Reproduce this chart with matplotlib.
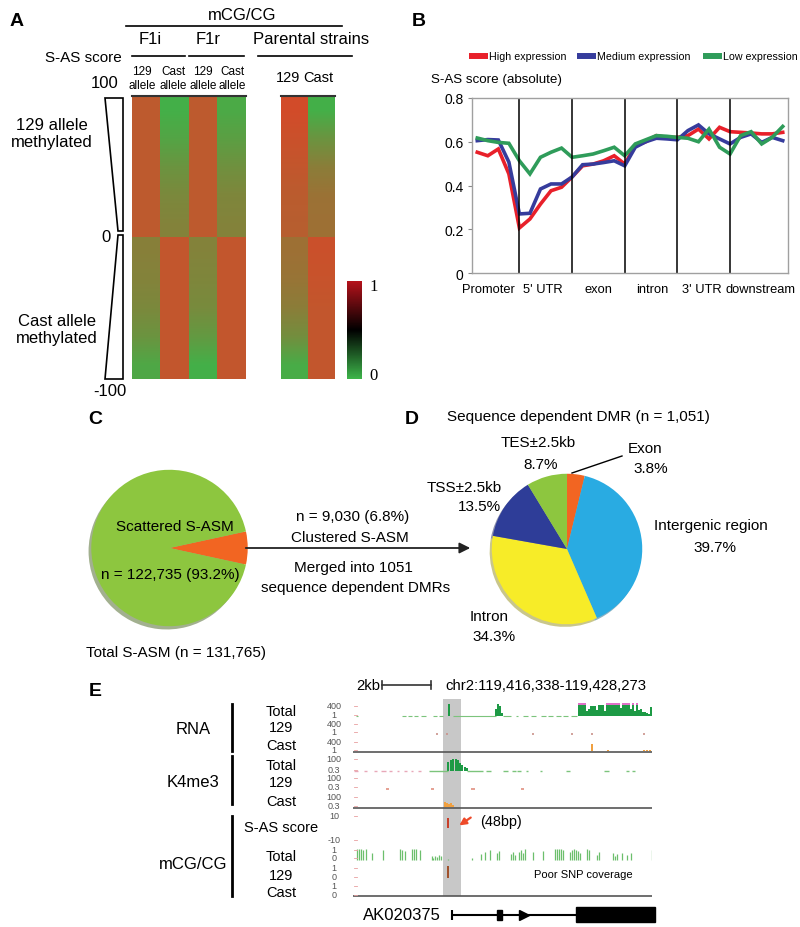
import numpy as np
import matplotlib
matplotlib.use('Agg')
import matplotlib.pyplot as plt
from matplotlib.colors import LinearSegmentedColormap, Normalize
from matplotlib.cm import ScalarMappable
from matplotlib.patches import Polygon, Rectangle

plt.rcParams['font.family'] = ['Liberation Sans', 'DejaVu Sans']

W, H = 800, 928

# ---- A: mCG/CG per column, top half (S-AS 100 -> 0) and bottom half (0 -> -100)
heat_top = {
    'F1i 129':  [0.82, 0.82, 0.82, 0.82, 0.82],
    'F1i Cast': [0.05, 0.15, 0.30, 0.40, 0.45],
    'F1r 129':  [0.82, 0.82, 0.82, 0.82, 0.82],
    'F1r Cast': [0.10, 0.20, 0.33, 0.42, 0.45],
    'Par 129':  [0.95, 0.90, 0.85, 0.80, 0.78],
    'Par Cast': [0.05, 0.30, 0.50, 0.60, 0.62],
}
heat_bot = {
    'F1i 129':  [0.48, 0.45, 0.40, 0.30, 0.12],
    'F1i Cast': [0.85, 0.85, 0.85, 0.85, 0.85],
    'F1r 129':  [0.45, 0.42, 0.38, 0.25, 0.05],
    'F1r Cast': [0.85, 0.85, 0.85, 0.85, 0.85],
    'Par 129':  [0.62, 0.58, 0.50, 0.35, 0.08],
    'Par Cast': [0.90, 0.88, 0.85, 0.85, 0.85],
}

# ---- B: S-AS score (absolute) along gene body
regions = ['Promoter', "5' UTR", 'exon', 'intron', "3' UTR", 'downstream']
series_names = ['High expression', 'Medium expression', 'Low expression']
high = [0.552, 0.536, 0.567, 0.453, 0.206, 0.247, 0.315, 0.376, 0.392, 0.439,
        0.490, 0.498, 0.513, 0.536, 0.498, 0.582, 0.600, 0.628, 0.620, 0.620,
        0.628, 0.658, 0.613, 0.666, 0.646, 0.643, 0.640, 0.636, 0.636, 0.643]
medium = [0.605, 0.610, 0.608, 0.507, 0.270, 0.273, 0.384, 0.407, 0.407, 0.439,
          0.495, 0.498, 0.505, 0.513, 0.490, 0.575, 0.600, 0.616, 0.613, 0.609,
          0.651, 0.677, 0.636, 0.613, 0.590, 0.620, 0.636, 0.597, 0.620, 0.605]
low = [0.617, 0.605, 0.597, 0.593, 0.513, 0.453, 0.529, 0.552, 0.571, 0.529,
       0.536, 0.544, 0.559, 0.575, 0.536, 0.590, 0.609, 0.628, 0.625, 0.620,
       0.616, 0.600, 0.658, 0.575, 0.544, 0.628, 0.646, 0.590, 0.620, 0.670]

# ---- C / D pies
c_vals = [6.8, 93.2]
d_labels = ['Exon', 'Intergenic region', 'Intron', 'TSS±2.5kb', 'TES±2.5kb']
d_vals = [3.8, 39.7, 34.3, 13.5, 8.7]

# ---- E: browser tracks, positions in kb from chr2:119,416,338
region_kb = 11.935
highlight = (3.59, 4.31)
rna_total_pos = [3.83, 5.72, 5.80, 5.88, 5.96]
rna_total_h = [1.0, 0.6, 1.0, 0.85, 0.25]
rna_block_start = 8.98
rna_block_h = [1.0, 1.0, 1.0, 1.0, 0.4, 0.6, 0.85, 0.85, 0.85, 0.5, 0.9, 0.9, 0.9,
               0.4, 1.0, 1.0, 1.0, 1.0, 1.0, 1.0, 1.0, 0.7, 1.0, 1.0, 1.0, 1.0,
               0.55, 1.0, 0.45, 1.0, 0.5, 0.6, 0.3, 0.35, 0.25, 0.2, 0.75]
rna_total_low = [(0.1, 0.2), (1.96, 2.1), (2.2, 2.35), (2.45, 2.6), (2.7, 2.9),
                 (3.2, 3.35), (3.45, 3.6), (4.0, 5.7), (6.0, 6.3), (6.5, 6.6),
                 (6.8, 7.0), (7.1, 7.3), (7.5, 7.7), (7.8, 8.0), (8.1, 8.3),
                 (8.4, 8.6), (8.7, 8.95)]
rna_129_pos = [3.35, 3.75, 7.19, 8.74, 9.54, 11.62]
rna_cast_pos = [9.54, 10.18, 11.62, 11.74, 11.86]
rna_cast_h = [0.75, 0.15, 0.15, 0.12, 0.15]
k4_total_pos = [3.80, 3.90, 4.00, 4.10, 4.18, 4.27, 4.36, 4.46, 4.54]
k4_total_h = [0.68, 0.81, 0.89, 0.95, 0.81, 0.62, 0.49, 0.32, 0.22]
k4_total_low_pink = [(0.05, 0.2), (0.45, 0.55), (0.85, 0.95), (1.1, 1.3), (1.45, 1.55),
                     (1.75, 1.85), (2.05, 2.15), (2.3, 2.4), (2.6, 2.7)]
k4_total_low_green = [(3.05, 3.8), (4.55, 5.2), (5.3, 5.5), (6.0, 6.2), (6.35, 6.5),
                      (6.55, 6.7), (6.9, 7.0), (7.45, 7.55), (8.5, 8.65), (10.0, 10.2),
                      (10.9, 11.0), (11.15, 11.25)]
k4_129_pos = [1.36, 3.19, 4.79, 6.75]
k4_cast_pos = [3.68, 3.76, 3.84, 3.92, 4.00]
k4_cast_h = [0.45, 0.35, 0.25, 0.30, 0.15]
sas_pos = [3.80]
sas_val = [8.0]
mcg_total_pos = [0.17, 0.25, 0.33, 0.41, 0.51, 0.75, 1.21, 1.88, 1.94, 2.09, 2.37, 2.45,
                 2.53, 2.67, 3.14, 3.21, 3.29, 3.37, 3.45, 3.52, 3.80, 4.74, 5.12, 5.28,
                 5.47, 5.74, 5.84, 6.31, 6.38, 6.46, 6.64, 6.71, 6.79, 6.88, 7.20, 7.57,
                 8.06, 8.13, 8.21, 8.29, 8.37, 8.66, 8.74, 8.82, 8.90, 8.98, 9.06, 9.33,
                 9.41, 9.73, 9.81, 10.39, 10.47, 10.55, 10.73, 10.93, 11.09, 11.92]
mcg_total_h = [0.95, 0.9, 0.95, 0.85, 0.9, 0.6, 0.8, 0.9, 0.85, 0.75, 0.95, 0.9,
               0.95, 0.85, 0.3, 0.2, 0.35, 0.25, 0.4, 0.3, 0.1, 0.2, 0.5, 0.65,
               0.8, 0.6, 0.75, 0.5, 0.65, 0.45, 0.7, 0.8, 0.6, 0.9, 0.7, 0.75,
               0.95, 0.9, 0.95, 0.9, 0.85, 0.7, 0.8, 0.9, 0.85, 0.75, 0.6, 0.9,
               0.8, 0.4, 0.7, 0.6, 0.3, 0.5, 0.55, 0.4, 0.6, 0.8]
mcg_129_pos = [3.80]
mcg_129_h = [1.0]
gene_start = 3.95
gene_end = 12.05
exons = [(5.75, 5.95, 5), (8.90, 12.05, 7.5)]
gene_arrow = 6.83

fig = plt.figure(figsize=(8, 9.28), dpi=100)


def add_ax(x0, y0, x1, y1):
    return fig.add_axes([x0 / W, 1 - y1 / H, (x1 - x0) / W, (y1 - y0) / H])


# ================= A =================
heat_cmap = LinearSegmentedColormap.from_list('gr', ['#3cb54a', '#da4628'])
cols = list(heat_top)
ax_f1 = add_ax(132, 97, 245.5, 380)
ax_par = add_ax(281, 97, 335, 380)
for ax, names in [(ax_f1, cols[:4]), (ax_par, cols[4:])]:
    for c, name in enumerate(names):
        ax.imshow(np.array(heat_top[name])[:, None], extent=(c, c + 1, 0, 100),
                  cmap=heat_cmap, vmin=0, vmax=1, interpolation='bilinear', aspect='auto')
        ax.imshow(np.array(heat_bot[name])[:, None], extent=(c, c + 1, -100, 0),
                  cmap=heat_cmap, vmin=0, vmax=1, interpolation='bilinear', aspect='auto')
    ax.set_xlim(0, len(names))
    ax.set_ylim(-100, 100)
    ax.set_xticks([])
    ax.set_yticks([])
    for s in ['left', 'right', 'bottom']:
        ax.spines[s].set_visible(False)
    ax.spines['top'].set_color('#333333')
    ax.spines['top'].set_linewidth(1.5)

cax = add_ax(347, 282, 362, 380)
bar_cmap = LinearSegmentedColormap.from_list('gkr', ['#3db54a', '#000000', '#b5121b'])
cb = fig.colorbar(ScalarMappable(norm=Normalize(0, 1), cmap=bar_cmap), cax=cax)
cb.set_ticks([])
cb.outline.set_visible(False)

# ================= B =================
line_colors = ['#e8202a', '#363c9c', '#2f9c5a']
ax_b = add_ax(472, 99, 788, 274)
x = np.arange(len(high))
for y, col in zip([high, medium, low], line_colors):
    ax_b.plot(x, y, color=col, lw=2.6, solid_joinstyle='miter')
for b in [4, 9, 14, 19, 24]:
    ax_b.axvline(b, color='black', lw=1.1)
ax_b.set_xlim(-0.5, 29.5)
ax_b.set_ylim(0, 0.8)
ax_b.set_yticks([0, 0.2, 0.4, 0.6, 0.8])
ax_b.set_yticklabels(['0', '0.2', '0.4', '0.6', '0.8'])
ax_b.set_xticks([1.04, 6.27, 11.49, 16.6, 21.3, 26.9])
ax_b.set_xticklabels(regions)
ax_b.tick_params(axis='x', length=0, pad=7, labelsize=9.3)
ax_b.tick_params(axis='y', length=3, color='#888888', labelsize=10, pad=3)
for s in ax_b.spines.values():
    s.set_color('#a0a0a0')
    s.set_linewidth(1)

# ================= C =================
ax_c = add_ax(169.5 - 79, 549 - 79, 169.5 + 79, 549 + 79)
ax_c.pie(c_vals, colors=['#f26522', '#8dc63f'], startangle=-c_vals[0] * 1.8, radius=1,
         wedgeprops=dict(linewidth=0),
         shadow={'ox': -0.025, 'oy': -0.03, 'shade': 0.5})
ax_c.set_xlim(-1.01, 1.01)
ax_c.set_ylim(-1.01, 1.01)

# ================= D =================
ax_d = add_ax(567 - 76, 550 - 76, 567 + 76, 550 + 76)
ax_d.pie(d_vals, colors=['#f26522', '#29abe2', '#f7ec28', '#2e3d98', '#8dc63f'],
         startangle=90, counterclock=False, radius=1, wedgeprops=dict(linewidth=0),
         shadow={'ox': -0.02, 'oy': -0.025, 'shade': 0.4})
ax_d.set_xlim(-1.01, 1.01)
ax_d.set_ylim(-1.01, 1.01)

# ================= E =================
ax_e = add_ax(353, 698, 652, 926)
ax_e.set_xlim(0, region_kb)
ax_e.set_ylim(926, 698)
ax_e.axis('off')
trk = {'rna_total': (705, 717), 'rna_129': (724, 735), 'rna_cast': (742, 752),
       'k4_total': (759, 772), 'k4_129': (778, 790), 'k4_cast': (796, 808),
       'mcg_total': (849, 861), 'mcg_129': (867, 879), 'mcg_cast': (886, 897)}
sas_mid, sas_scale = 829, 1.2


def bars(key, pos, frac, width, color, **kw):
    top, base = trk[key]
    ax_e.bar(pos, -np.asarray(frac) * (base - top), bottom=base, width=width,
             color=color, linewidth=0, **kw)


def low_sig(key, segs, color, lw=0.8):
    base = trk[key][1]
    ax_e.hlines([base] * len(segs), [s[0] for s in segs], [s[1] for s in segs],
                color=color, lw=lw)


ax_e.fill_between(list(highlight), 700, 897, color='#c8c8c8', lw=0, zorder=0)
green = '#1d9a45'
bars('rna_total', rna_total_pos, rna_total_h, 0.08, green)
block_pos = rna_block_start + 0.08 * np.arange(len(rna_block_h))
bars('rna_total', block_pos, rna_block_h, 0.082, green, align='edge')
# saturated bins get a magenta cap, as in the browser
sat = [p for p, h in zip(block_pos, rna_block_h) if h >= 1.0]
ax_e.bar(sat, 1.5, bottom=trk['rna_total'][0] - 1, width=0.082, color='#e070c8',
         linewidth=0, align='edge')
low_sig('rna_total', rna_total_low, '#7cc47c')
low_sig('rna_129', [(p - 0.04, p + 0.04) for p in rna_129_pos], '#c9928a', lw=1.2)
bars('rna_cast', rna_cast_pos, rna_cast_h, 0.07, '#f0a040')
bars('k4_total', k4_total_pos, k4_total_h, 0.095, green)
low_sig('k4_total', k4_total_low_pink, '#e8a8b8', lw=1.0)
low_sig('k4_total', k4_total_low_green, '#7cc47c', lw=1.0)
low_sig('k4_129', [(p - 0.06, p + 0.06) for p in k4_129_pos], '#e09080', lw=1.2)
bars('k4_cast', k4_cast_pos, k4_cast_h, 0.08, '#f0a040')
ax_e.bar(sas_pos, -np.asarray(sas_val) * sas_scale, bottom=sas_mid, width=0.06,
         color='#c8402a', linewidth=0)
ax_e.vlines(mcg_total_pos, trk['mcg_total'][1],
            trk['mcg_total'][1] - np.asarray(mcg_total_h) * 12, color='#6cbf6c', lw=0.9)
bars('mcg_129', mcg_129_pos, mcg_129_h, 0.06, '#a0522d')
ax_e.hlines([753, 809, 897], 0, region_kb, color='#555555', lw=1.2)
# gene model
ax_e.hlines(916, gene_start, gene_end, color='black', lw=1.5, clip_on=False)
ax_e.vlines(gene_start, 911, 921, color='black', lw=1.5)
for s, e, hh in exons:
    ax_e.add_patch(Rectangle((s, 916 - hh), e - s, 2 * hh, color='black', clip_on=False))
ax_e.plot(gene_arrow, 916, marker='>', ms=7, color='black')

# ================= overlay text / decoration =================
ov = fig.add_axes([0, 0, 1, 1])
ov.set_xlim(0, W)
ov.set_ylim(H, 0)
ov.axis('off')
ov.patch.set_alpha(0)


def t(x, y, s, size=11, ha='center', **kw):
    ov.text(x, y, s, fontsize=size, ha=ha, va='center', **kw)


for x0, y0, s in [(17, 21, 'A'), (419, 22, 'B'), (95, 420, 'C'), (412, 420, 'D'), (95, 692, 'E')]:
    t(x0, y0, s, size=14, fontweight='bold')

# A header
t(242, 15, 'mCG/CG', 12)
ov.plot([126, 342], [27, 27], color='black', lw=1.2)
t(150, 40, 'F1i', 12)
t(208, 40, 'F1r', 12)
t(311, 40, 'Parental strains', 12)
for a, b in [(132, 185), (189, 244), (258, 352)]:
    ov.plot([a, b], [57, 57], color='black', lw=1.2)
t(122, 58, 'S-AS score', 11, ha='right')
for xx, s in [(142, '129'), (173, 'Cast'), (203, '129'), (232, 'Cast')]:
    t(xx, 72, s, 8.5)
    t(xx, 86, 'allele', 8.5)
t(288, 78, '129', 10.5)
t(318, 78, 'Cast', 10.5)
t(105, 83, '100', 12)
t(106, 237, '0', 12)
t(110, 392, '-100', 12)
t(52, 134, '129 allele\nmethylated', 12, linespacing=1.1)
t(57, 330, 'Cast allele\nmethylated', 12, linespacing=1.1)
ov.add_patch(Polygon([(105, 99), (123, 99), (123, 232), (118, 232)], closed=True,
                     facecolor='white', edgecolor='black', lw=1.2))
ov.add_patch(Polygon([(118, 236), (123, 236), (123, 380), (105, 380)], closed=True,
                     facecolor='white', edgecolor='black', lw=1.2))
t(369, 287, '1', 12, ha='left', family=['Liberation Serif', 'DejaVu Serif'])
t(369, 376, '0', 12, ha='left', family=['Liberation Serif', 'DejaVu Serif'])

# B legend and axis title
for (x0, x1), col, lab in zip([(469, 488), (577, 596), (703, 722)], line_colors, series_names):
    ov.plot([x0, x1], [57, 57], color=col, lw=4.3, solid_capstyle='butt')
    t(x1 + 1, 57, lab, 7.7, ha='left')
t(431, 80, 'S-AS score (absolute)', 9.6, ha='left')

# C
t(175, 527, 'Scattered S-ASM', 11)
t(170, 575, 'n = 122,735 (93.2%)', 11)
t(176, 653, 'Total S-ASM (n = 131,765)', 11)
t(353, 517, 'n = 9,030 (6.8%)', 11)
t(350, 538, 'Clustered S-ASM', 11)
t(353, 568, 'Merged into 1051', 11)
t(356, 588, 'sequence dependent DMRs', 11)
ov.annotate('', xy=(473, 549), xytext=(243, 549),
            arrowprops=dict(arrowstyle='-|>', color='#222222', lw=1.3, mutation_scale=16))

# D
t(578, 417, 'Sequence dependent DMR (n = 1,051)', 11)
t(538, 443, 'TES±2.5kb', 11)
t(541, 465, '8.7%', 11)
t(645, 449, 'Exon', 11)
t(651, 469, '3.8%', 11)
ov.plot([572, 622], [474, 457], color='black', lw=1)
t(464, 488, 'TSS±2.5kb', 11)
t(479, 507, '13.5%', 11)
t(711, 526, 'Intergenic region', 11)
t(715, 548, '39.7%', 11)
t(489, 617, 'Intron', 11)
t(494, 637, '34.3%', 11)

# E
t(368, 686, '2kb', 10.7)
ov.plot([382, 431], [686, 686], color='#333333', lw=1.2)
ov.plot([382, 382], [682, 690], color='#333333', lw=1.2)
ov.plot([431, 431], [682, 690], color='#333333', lw=1.2)
t(546, 686, 'chr2:119,416,338-119,428,273', 10.7)
t(193, 730, 'RNA', 12)
t(193, 783, 'K4me3', 12)
t(193, 865, 'mCG/CG', 12)
for a, b in [(705, 752), (757, 805), (817, 897)]:
    ov.plot([232, 232], [a, b], color='black', lw=2)
for yy, s in [(712, 'Total'), (728, '129'), (746, 'Cast'), (766, 'Total'), (783, '129'),
              (802, 'Cast'), (828, 'S-AS score'), (857, 'Total'), (876, '129'), (893, 'Cast')]:
    t(281, yy, s, 10.5)
for yy, s in [(707, '400'), (716, '1'), (725, '400'), (733, '1'), (743, '400'), (751, '1'),
              (760, '100'), (771, '0.3'), (779, '100'), (788, '0.3'), (798, '100'), (807, '0.3'),
              (817, '10'), (841, '-10'), (851, '1'), (859, '0'), (869, '1'), (878, '0'),
              (887, '1'), (896, '0')]:
    t(334, yy, s, 6.5, color='#555555')
    ov.plot([354, 356.5], [yy, yy], color='#e8a0a0', lw=0.6)
t(501, 822, '(48bp)', 10.4)
ov.annotate('', xy=(457, 828), xytext=(473, 817),
            arrowprops=dict(arrowstyle='-|>', color='#ee4a2a', lw=1.6, mutation_scale=10))
t(583, 875, 'Poor SNP coverage', 8)
t(402, 916, 'AK020375', 12)

fig.savefig('out.png', dpi=100)
